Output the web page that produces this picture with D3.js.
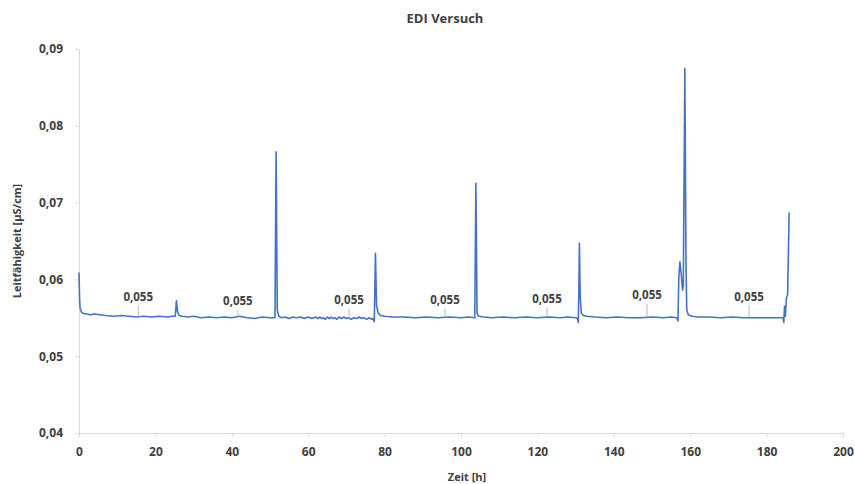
<!DOCTYPE html>
<html><head><meta charset="utf-8">
<script src="https://cdn.jsdelivr.net/npm/d3@7"></script>
<style>
body{margin:0;background:#fff;}
text{font-family:"Open Sans",sans-serif;fill:#404040;}
</style></head>
<body><svg id="c" width="855" height="484"></svg>
<script>
// ---- data ----
const timeH = [0,0.15,0.3,0.6,1,2,3,4,5.5,7,9,11,13,15,17,19,21,23,24.5,25.2,25.5,25.8,26.2,27,28.5,30,32,34,36,38,40,42,44,46,48,50,51.3,51.6,51.9,52.3,
  53,54,55,56,57,58,59,60,61,61.5,62,62.5,63,63.6,64,64.5,65,65.6,66,66.5,67,67.5,68,68.7,69.3,70,70.6,71.2,72,72.7,73.3,74,74.6,75.3,76,76.6,77,77.3,
  77.6,77.9,78.3,78.9,80,82,85,88,91,94,97,100,102,103.6,103.9,104.2,104.6,106,108,111,114,117,120,123,126,128,130,130.5,130.7,130.85,131.0,131.2,131.5,132,133,135,138,141,144,147,150,153,155,156.5,156.8,157.0,157.3,157.6,158.0,158.2,158.6,158.9,159.1,159.5,160.5,162,165,168,171,174,177,180,
  183,184.3,184.5,184.7,184.9,185.2,185.5,185.9];
const conductivity = [0.0609,0.0575,0.0562,0.0558,0.0556,0.0555,0.0554,0.0555,0.0554,0.0553,0.0552,0.0553,0.0552,0.0551,0.0552,0.0551,0.0552,0.0551,0.0552,0.0552,0.0572,0.0558,0.0553,0.0552,0.0551,0.0552,0.0550,0.0551,0.0550,0.0551,0.0550,0.0552,0.0550,0.0549,0.0551,0.0550,0.0550,0.0766,0.0560,0.0552,
  0.0550,0.0551,0.0549,0.0551,0.0550,0.0551,0.0549,0.0551,0.0549,0.0550,0.0551,0.0549,0.0551,0.0549,0.0550,0.0548,0.0551,0.0549,0.0551,0.0549,0.0550,0.0548,0.0551,0.0549,0.0551,0.0549,0.0550,0.0548,0.0550,0.0549,0.0551,0.0549,0.0550,0.0548,0.0550,0.0548,0.0549,0.0545,
  0.0634,0.0565,0.0557,0.0553,0.0552,0.0551,0.0551,0.0550,0.0551,0.0550,0.0551,0.0550,0.0551,0.0550,0.0725,0.0556,0.0552,0.0551,0.0550,0.0551,0.0550,0.0551,0.0550,0.0551,0.0550,0.0551,0.0550,0.0549,0.0544,0.0586,0.0647,0.0578,0.0556,0.0553,0.0552,0.0551,0.0550,0.0551,0.0550,0.0550,0.0551,0.0550,0.0551,0.0550,0.0546,0.0600,0.0623,0.0610,0.0586,0.0592,0.0875,0.0620,0.0560,0.0554,0.0552,0.0551,0.0551,0.0550,0.0551,0.0550,0.0550,0.0550,
  0.0550,0.0550,0.0544,0.0565,0.0552,0.0576,0.0580,0.0687];
const labelTimes = [15.5,41.6,70.7,95.8,122.5,148.7,175.4];
const labelValues = [0.055,0.055,0.055,0.055,0.055,0.055,0.055];
const xTicks = [0,20,40,60,80,100,120,140,160,180,200];
const yTicks = [0.04,0.05,0.06,0.07,0.08,0.09];
const title = "EDI Versuch";
const xTitle = "Zeit [h]";
const yTitle = "Leitfähigkeit [µS/cm]";

// ---- layout ----
const labelDy = [-21,-17,-18,-18,-19,-23,-21];
const L = 79, R = 843, T = 49, B = 433;
const svg = d3.select("#c");
const x = d3.scaleLinear().domain([0,200]).range([L,R]);
const y = d3.scaleLinear().domain([0.04,0.09]).range([B,T]);
const fmt = d => d3.format(".2f")(d).replace(".", ",");
const fmt3 = d => d3.format(".3f")(d).replace(".", ",");

svg.append("text").attr("x",445).attr("y",23).attr("text-anchor","middle")
  .style("font-size","13px").style("font-weight","bold").text(title);

const ya = svg.append("g").attr("transform",`translate(${L},0)`)
  .call(d3.axisLeft(y).tickValues(yTicks).tickFormat(fmt).tickSizeOuter(0).tickSize(4).tickPadding(12));
const xa = svg.append("g").attr("transform",`translate(0,${B})`)
  .call(d3.axisBottom(x).tickValues(xTicks).tickFormat(d3.format("d")).tickSizeOuter(0).tickSize(4).tickPadding(10));
[ya,xa].forEach(a=>{
  a.selectAll("path,line").attr("stroke","#d9d9d9").attr("stroke-width",1);
  a.selectAll("text").style("font-size","12px").style("font-weight","bold").attr("fill","#404040");
});

svg.append("text").attr("transform",`translate(21,${(T+B)/2}) rotate(-90)`).attr("text-anchor","middle")
  .style("font-size","11px").style("font-weight","bold").text(yTitle);
svg.append("text").attr("x",467).attr("y",481).attr("text-anchor","middle")
  .style("font-size","11px").style("font-weight","bold").text(xTitle);

const pts = timeH.map((t,i)=>[t,conductivity[i]]);
svg.append("path").datum(pts)
  .attr("fill","none").attr("stroke","#4472C4").attr("stroke-width",1.6).attr("stroke-linejoin","round")
  .attr("d", d3.line().x(d=>x(d[0])).y(d=>y(d[1])));

labelTimes.forEach((t,i)=>{
  const px = x(t), py = y(labelValues[i]);
  const ty = py + labelDy[i];
  svg.append("line").attr("x1",px).attr("x2",px).attr("y1",ty+9).attr("y2",py-1)
    .attr("stroke","#a6a6a6").attr("stroke-width",0.8);
  svg.append("text").attr("x",px).attr("y",ty+4).attr("text-anchor","middle")
    .style("font-size","11.5px").style("font-weight","bold").text(fmt3(labelValues[i]));
});
</script></body></html>
